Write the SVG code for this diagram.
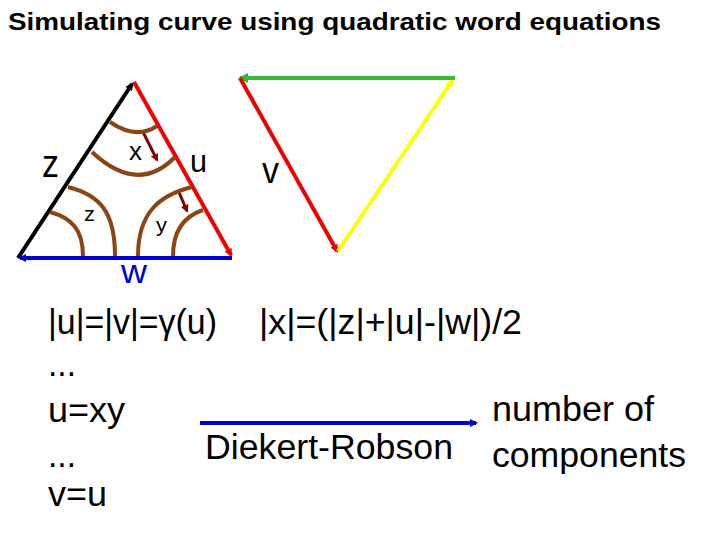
<svg xmlns="http://www.w3.org/2000/svg" width="720" height="540" viewBox="0 0 720 540">
<style>
text{font-family:"Liberation Sans",Arial,sans-serif;fill:#000}
.big{font-size:35px}
.edge{stroke-width:4;fill:none}
.curve{stroke:#8B4513;stroke-width:4;fill:none}
</style>
<defs>
<marker id="ak" markerWidth="8" markerHeight="8" refX="6" refY="4" orient="auto" markerUnits="userSpaceOnUse" viewBox="0 0 8 8"><path d="M0,0 L8,4 L0,8 z" fill="#000"/></marker>
<marker id="ar" markerWidth="8" markerHeight="8" refX="6" refY="4" orient="auto" markerUnits="userSpaceOnUse" viewBox="0 0 8 8"><path d="M0,0 L8,4 L0,8 z" fill="#f00000"/></marker>
<marker id="ab" markerWidth="8" markerHeight="8" refX="6" refY="4" orient="auto" markerUnits="userSpaceOnUse" viewBox="0 0 8 8"><path d="M0,0 L8,4 L0,8 z" fill="#0000d0"/></marker>
<marker id="ag" markerWidth="10" markerHeight="10" refX="8" refY="5" orient="auto" markerUnits="userSpaceOnUse" viewBox="0 0 10 10"><path d="M0,0 L10,5 L0,10 z" fill="#33bb33"/></marker>
<marker id="ay" markerWidth="8" markerHeight="8" refX="6" refY="4" orient="auto" markerUnits="userSpaceOnUse" viewBox="0 0 8 8"><path d="M0,0 L8,4 L0,8 z" fill="#ffff00"/></marker>
<marker id="ad" markerWidth="8" markerHeight="8" refX="6" refY="4" orient="auto" markerUnits="userSpaceOnUse" viewBox="0 0 8 8"><path d="M0,0 L8,4 L0,8 z" fill="#800000"/></marker>
</defs>

<text id="title" x="8" y="30" font-size="24" font-weight="bold" textLength="653" lengthAdjust="spacingAndGlyphs">Simulating curve using quadratic word equations</text>

<g id="connectors">
<line class="edge" x1="18" y1="258" x2="132" y2="84" stroke="#000" marker-end="url(#ak)"/>
<line class="edge" x1="134" y1="82" x2="231" y2="255" stroke="#f00000" marker-end="url(#ar)"/>
<line class="edge" x1="232" y1="258" x2="20" y2="258" stroke="#0000d0" marker-end="url(#ab)"/>
<line class="edge" x1="455" y1="78" x2="240" y2="78" stroke="#33bb33" marker-end="url(#ag)"/>
<line class="edge" x1="240" y1="78" x2="337" y2="251" stroke="#f00000" marker-end="url(#ar)"/>
<line class="edge" x1="338" y1="251" x2="452" y2="81" stroke="#ffff00" marker-end="url(#ay)"/>
<line x1="143" y1="132" x2="157" y2="160" stroke="#800000" stroke-width="3" marker-end="url(#ad)"/>
<line x1="178" y1="190" x2="187" y2="211" stroke="#800000" stroke-width="3" marker-end="url(#ad)"/>
<line x1="200" y1="423" x2="476" y2="423" stroke="#0000d0" stroke-width="4" marker-end="url(#ab)"/>
</g>

<g id="curves">
<path class="curve" d="M110,122 Q136,140 157,126"/>
<path class="curve" d="M92,152 Q138,195 175,157"/>
<path class="curve" d="M68,187 C100,195 115,212 115,256"/>
<path class="curve" d="M50,212 C72,218 83,230 83,256"/>
<path class="curve" d="M192,187 C160,195 138,212 138,256"/>
<path class="curve" d="M203,210 C185,216 173,230 173,256"/>
</g>

<g id="labels">
<text x="42" y="177" font-size="38" textLength="17" lengthAdjust="spacingAndGlyphs">z</text>
<text x="129" y="160" font-size="26" textLength="13" lengthAdjust="spacingAndGlyphs">x</text>
<text x="190" y="172" font-size="32" textLength="17" lengthAdjust="spacingAndGlyphs">u</text>
<text x="84" y="221" font-size="21" textLength="11" lengthAdjust="spacingAndGlyphs">z</text>
<text x="156" y="232" font-size="20" textLength="11" lengthAdjust="spacingAndGlyphs">y</text>
<text x="121" y="283" font-size="34" textLength="26" lengthAdjust="spacingAndGlyphs" style="fill:#0000d0">w</text>
<text x="262" y="183" font-size="36" textLength="17" lengthAdjust="spacingAndGlyphs">v</text>
</g>

<g id="equations">
<text class="big" x="48" y="334" textLength="169" lengthAdjust="spacingAndGlyphs">|u|=|v|=γ(u)</text>
<text class="big" x="259" y="334" textLength="263" lengthAdjust="spacingAndGlyphs">|x|=(|z|+|u|-|w|)/2</text>
<text class="big" x="48" y="376" textLength="28" lengthAdjust="spacingAndGlyphs">...</text>
<text class="big" x="48" y="422" textLength="77" lengthAdjust="spacingAndGlyphs">u=xy</text>
<text class="big" x="48" y="467" textLength="28" lengthAdjust="spacingAndGlyphs">...</text>
<text class="big" x="48" y="506" textLength="59" lengthAdjust="spacingAndGlyphs">v=u</text>
<text class="big" x="205" y="459" textLength="248" lengthAdjust="spacingAndGlyphs">Diekert-Robson</text>
<text class="big" x="492" y="421" textLength="162" lengthAdjust="spacingAndGlyphs">number of</text>
<text class="big" x="492" y="467" textLength="194" lengthAdjust="spacingAndGlyphs">components</text>
</g>
</svg>
